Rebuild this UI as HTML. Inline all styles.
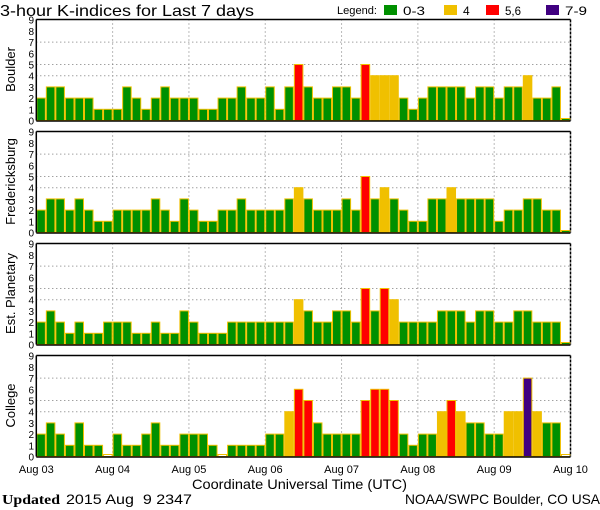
<!DOCTYPE html>
<html><head><meta charset="utf-8"><style>
html,body{margin:0;padding:0;background:#fff;width:600px;height:510px;overflow:hidden}
svg text{font-family:"Liberation Sans",sans-serif}
</style></head><body>
<svg id="s" width="600" height="510" xmlns="http://www.w3.org/2000/svg">
<text x="0" y="16" font-size="16" textLength="254" lengthAdjust="spacingAndGlyphs">3-hour K-indices for Last 7 days</text>
<text x="337" y="14" font-size="11" textLength="40" lengthAdjust="spacingAndGlyphs">Legend:</text>
<rect x="384" y="5" width="13" height="10" fill="#009000"/><text x="403" y="15" font-size="12" textLength="22" lengthAdjust="spacingAndGlyphs">0-3</text>
<rect x="444" y="5" width="13" height="10" fill="#f0c000"/><text x="463" y="15" font-size="12">4</text>
<rect x="486" y="5" width="13" height="10" fill="#ff0000"/><text x="505" y="15" font-size="12" textLength="16" lengthAdjust="spacingAndGlyphs">5,6</text>
<rect x="546" y="5" width="13" height="10" fill="#400080"/><text x="565" y="15" font-size="12" textLength="22" lengthAdjust="spacingAndGlyphs">7-9</text>
<text x="192" y="489" font-size="14" textLength="215" lengthAdjust="spacingAndGlyphs">Coordinate Universal Time (UTC)</text>
<text x="2" y="504" font-size="14" font-weight="bold" style="font-family:'Liberation Serif',serif" textLength="58" lengthAdjust="spacingAndGlyphs">Updated</text>
<text x="66" y="504" font-size="14" textLength="126" lengthAdjust="spacingAndGlyphs" xml:space="preserve">2015 Aug  9 2347</text>
<text x="405" y="504" font-size="14" textLength="195" lengthAdjust="spacingAndGlyphs">NOAA/SWPC Boulder, CO USA</text>
</svg>
<script>
var D=[
[2,3,3,2,2,2,1,1,1,3,2,1,2,3,2,2,2,1,1,2,2,3,2,2,3,1,3,5,3,2,2,3,3,2,5,4,4,4,2,1,2,3,3,3,3,2,3,3,2,3,3,4,2,2,3,0],
[2,3,3,2,3,2,1,1,2,2,2,2,3,2,1,3,2,1,1,2,2,3,2,2,2,2,3,4,3,2,2,2,3,2,5,3,4,3,2,1,1,3,3,4,3,3,3,3,1,2,2,3,3,2,2,0],
[2,3,2,1,2,1,1,2,2,2,1,1,2,1,1,3,2,1,1,1,2,2,2,2,2,2,2,4,3,2,2,3,3,2,5,3,5,4,2,2,2,2,3,3,3,2,3,3,2,2,3,3,2,2,2,0],
[2,3,2,1,3,1,1,0,2,1,1,2,3,1,1,2,2,2,1,0,1,1,1,1,2,2,4,6,5,3,2,2,2,2,5,6,6,5,2,1,2,2,4,5,4,3,3,2,2,4,4,7,4,3,3,0]];
var names=["Boulder","Fredericksburg","Est. Planetary","College"];
var L=36.3,R=570.5,bw=(R-L)/56,u=11.2,h="";
function col(v){return v>=7?"#400080":v>=5?"#ff0000":v==4?"#f0c000":"#009000";}
for(var p=0;p<4;p++){
 var T=19.5+112*p,B=T+101;
 h+='<text transform="translate(15,'+(T+50)+') rotate(-90)" font-size="13" text-anchor="middle">'+names[p]+'</text>';
 for(var k=0;k<=9;k++)h+='<text x="34" y="'+(B-k*u+4)+'" font-size="10" text-anchor="end">'+k+'</text>';
 [4,5,7].forEach(function(k){h+='<line x1="'+L+'" x2="'+R+'" y1="'+(B-k*u)+'" y2="'+(B-k*u)+'" stroke="#777" stroke-dasharray="1,3"/>';});
 for(var d=1;d<7;d++){var x=L+d*8*bw;h+='<line x1="'+x+'" x2="'+x+'" y1="'+T+'" y2="'+B+'" stroke="#777" stroke-dasharray="1,3"/>';}
 for(var i=0;i<56;i++){var v=D[p][i],x=L+i*bw,y=v==0?B-2:B-v*u;
  h+='<rect x="'+(x+0.5)+'" y="'+y+'" width="'+(bw-1)+'" height="'+(B-y)+'" fill="'+(v==0&&p==3?"#fff":col(v))+'" stroke="#f0c000" stroke-width="1"/>';}
 h+='<line x1="'+L+'" x2="'+R+'" y1="'+T+'" y2="'+T+'" stroke="#000" stroke-width="1.5"/>';
 h+='<line x1="'+L+'" x2="'+R+'" y1="'+(B+0.5)+'" y2="'+(B+0.5)+'" stroke="#000" stroke-width="1.5"/>';
 h+='<line x1="'+L+'" x2="'+L+'" y1="'+T+'" y2="'+B+'" stroke="#000" stroke-width="1.5"/>';
 h+='<line x1="'+R+'" x2="'+R+'" y1="'+T+'" y2="'+B+'" stroke="#000" stroke-width="1.5" stroke-dasharray="3,1"/>';
}
var lab=["Aug 03","Aug 04","Aug 05","Aug 06","Aug 07","Aug 08","Aug 09","Aug 10"];
for(var d=0;d<8;d++)h+='<text x="'+(L+d*8*bw)+'" y="473" font-size="11" text-anchor="middle">'+lab[d]+'</text>';
document.getElementById("s").insertAdjacentHTML("beforeend",h);
</script>
</body></html>
